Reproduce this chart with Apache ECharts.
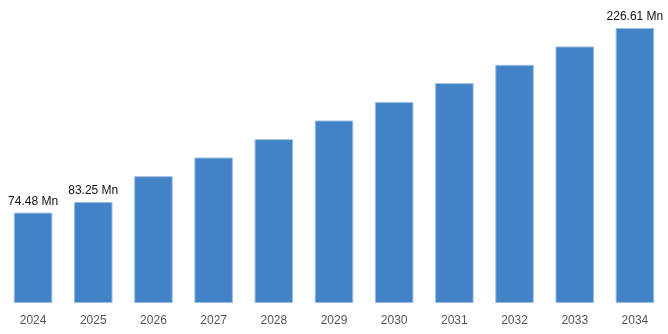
<!DOCTYPE html>
<html>
<head>
<meta charset="utf-8">
<script src="https://cdn.jsdelivr.net/npm/echarts@6/dist/echarts.min.js"></script>
<style>
  html, body { margin: 0; padding: 0; background: #fff; }
  #chart { width: 668px; height: 334px; }
</style>
</head>
<body>
<div id="chart"></div>
<script>
// Market size by year (Mn)
const years = ['2024', '2025', '2026', '2027', '2028', '2029', '2030', '2031', '2032', '2033', '2034'];
const values = [74.48, 83.25, 104.5, 119.9, 135.0, 150.4, 165.6, 181.2, 196.3, 211.4, 226.61];
// Only these years carry a value label
const labelledYears = ['2024', '2025', '2034'];

const chart = echarts.init(document.getElementById('chart'));

chart.setOption({
  animation: false,
  grid: { left: 3, right: 3, top: 28, bottom: 31 },
  xAxis: {
    type: 'category',
    data: years,
    axisLine: { show: false },
    axisTick: { show: false },
    axisLabel: {
      color: '#555',
      fontSize: 12,
      fontFamily: 'Liberation Sans, Arial, sans-serif',
      margin: 12
    }
  },
  yAxis: {
    type: 'value',
    min: 0,
    max: 'dataMax',
    show: false,
    splitLine: { show: false }
  },
  series: [{
    type: 'bar',
    barWidth: '64%',
    data: values.map((v, i) => ({
      value: v,
      label: { show: labelledYears.includes(years[i]) }
    })),
    itemStyle: {
      color: '#4282c6',
      borderColor: '#9dbde3',
      borderWidth: 1
    },
    label: {
      position: 'top',
      distance: 5,
      color: '#111',
      fontSize: 12,
      fontFamily: 'Liberation Sans, Arial, sans-serif',
      formatter: p => p.value.toFixed(2) + ' Mn'
    }
  }]
});
</script>
</body>
</html>
